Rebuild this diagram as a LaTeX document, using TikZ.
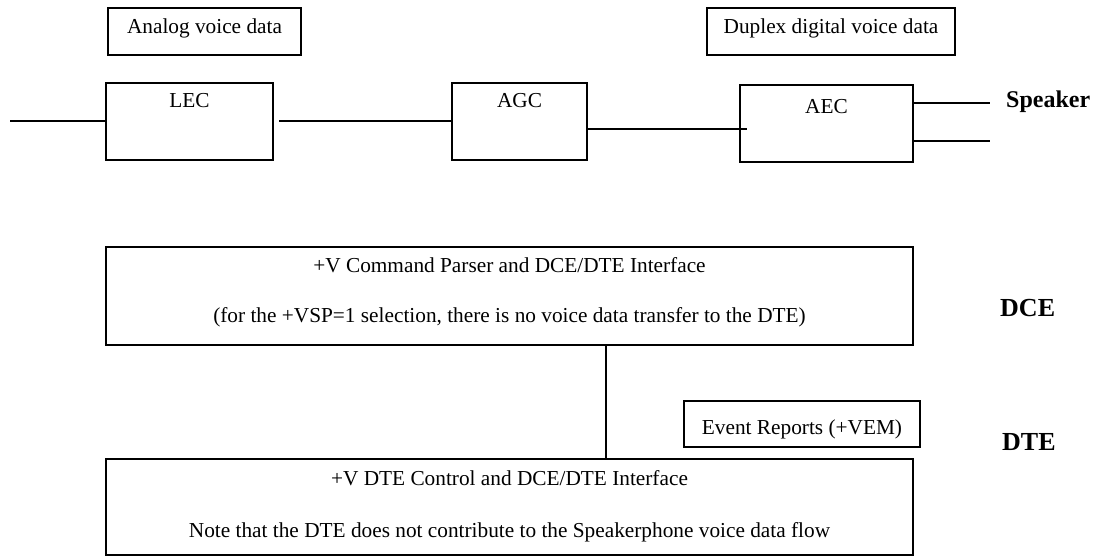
\documentclass[tikz,border=0pt]{standalone}
\usepackage{fontspec}
\setmainfont{Liberation Serif}
\usetikzlibrary{fit}
\begin{document}
\begin{tikzpicture}[x=1pt,y=-1pt,
  box/.style={draw, line width=1.6pt, inner sep=0pt},
  wire/.style={line width=1.9pt},
  txt/.style={font=\fontsize{21.3}{24}\selectfont, inner sep=0pt, anchor=base},
  lbl/.style={font=\fontsize{26}{28}\selectfont\bfseries, inner sep=0pt, anchor=base west}]
\useasboundingbox (0,0) rectangle (1096,556);

% top label boxes
\node[box, fit={(108,8) (301,55)}] (analog) {};
\node[txt] (analogt) at (204.5,33.5) {Analog voice data};
\node[box, fit={(707,8) (955,55)}] (duplex) {};
\node[txt] (duplext) at (831,33.5) {Duplex digital voice data};

% processing blocks
\node[box, fit={(106,83) (273,160)}] (lec) {};
\node[txt] (lect) at (189.5,108) {LEC};
\node[box, fit={(452,83) (587,160)}] (agc) {};
\node[txt] (agct) at (519.5,108) {AGC};
\node[box, fit={(740,85) (913,162)}] (aec) {};
\node[txt] (aect) at (826.5,114) {AEC};

% wires
\coordinate (in) at (10,121);
\coordinate (lecout) at (279,121);
\coordinate (agcout) at (587,129);
\coordinate (aecin) at (747,129);
\coordinate (spk1) at (990,103);
\coordinate (spk2) at (990,141);
\draw[wire] (in) -- (lec.west |- in);
\draw[wire] (lecout) -- (agc.west |- lecout);
\draw[wire] (agcout) -- (aecin);
\draw[wire] (aec.east |- spk1) -- (spk1);
\draw[wire] (aec.east |- spk2) -- (spk2);
\node[lbl, font=\fontsize{24}{28}\selectfont\bfseries] (speaker) at (1006,108) {Speaker};

% DCE block
\node[box, fit={(106,247) (913,345)}] (dce) {};
\node[txt] (dce1) at (509.5,273) {+V Command Parser and DCE/DTE Interface};
\node[txt] (dce2) at (509.5,323) {(for the +VSP=1 selection, there is no voice data transfer to the DTE)};
\node[lbl] (dcel) at (1000,317) {DCE};

% DTE block
\node[box, fit={(106,459) (913,555)}] (dte) {};
\node[txt] (dte1) at (509.5,485) {+V DTE Control and DCE/DTE Interface};
\node[txt] (dte2) at (509.5,537) {Note that the DTE does not contribute to the Speakerphone voice data flow};
\node[lbl] (dtel) at (1002,450) {DTE};

\node[box, fit={(684,401) (920,447)}] (event) {};
\node[txt] (eventt) at (802,434) {Event Reports (+VEM)};

\coordinate (c1) at (606,345);
\draw[wire] (c1) -- (dte.north -| c1);
\end{tikzpicture}
\end{document}
